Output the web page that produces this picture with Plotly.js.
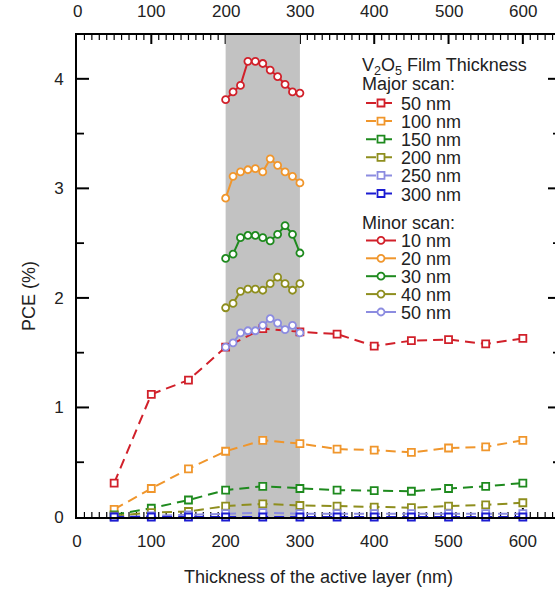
<!DOCTYPE html>
<html>
<head>
<meta charset="utf-8">
<script src="https://cdn.plot.ly/plotly-3.0.1.min.js"></script>
<style>
html,body{margin:0;padding:0;overflow:hidden;background:#fff;}
#chart{width:600px;height:589px;}
</style>
</head>
<body>
<div id="chart"></div>
<script>
// ---- Data ----
const majorX = [50, 100, 150, 200, 250, 300, 350, 400, 450, 500, 550, 600];
const major50  = [0.31, 1.12, 1.25, 1.55, 1.72, 1.69, 1.67, 1.56, 1.61, 1.62, 1.58, 1.63];
const major100 = [0.07, 0.26, 0.44, 0.60, 0.70, 0.67, 0.62, 0.61, 0.59, 0.63, 0.64, 0.70];
const major150 = [0.02, 0.08, 0.155, 0.245, 0.28, 0.26, 0.245, 0.24, 0.235, 0.26, 0.28, 0.31];
const major200 = [0.01, 0.04, 0.05, 0.10, 0.12, 0.105, 0.10, 0.09, 0.085, 0.10, 0.11, 0.13];
const major250 = [0.00, 0.01, 0.02, 0.03, 0.04, 0.03, 0.03, 0.03, 0.03, 0.03, 0.03, 0.03];
const major300 = [0.00, 0.00, 0.00, 0.00, 0.00, 0.00, 0.00, 0.00, 0.00, 0.00, 0.00, 0.00];

const minorX = [200, 210, 220, 230, 240, 250, 260, 270, 280, 290, 300];
const minor10 = [3.81, 3.88, 3.94, 4.16, 4.16, 4.14, 4.08, 4.02, 3.95, 3.88, 3.87];
const minor20 = [2.91, 3.11, 3.15, 3.17, 3.18, 3.15, 3.27, 3.21, 3.15, 3.11, 3.05];
const minor30 = [2.36, 2.40, 2.55, 2.57, 2.57, 2.55, 2.52, 2.58, 2.66, 2.58, 2.41];
const minor40 = [1.91, 1.95, 2.06, 2.08, 2.08, 2.07, 2.13, 2.19, 2.13, 2.07, 2.13];
const minor50 = [1.55, 1.59, 1.68, 1.70, 1.70, 1.75, 1.81, 1.77, 1.71, 1.75, 1.68];

const majorNames = ['50 nm', '100 nm', '150 nm', '200 nm', '250 nm', '300 nm'];
const minorNames = ['10 nm', '20 nm', '30 nm', '40 nm', '50 nm'];
const majorColors = ['#d1202a', '#f0962c', '#1e8a1e', '#8e8e1e', '#8c8ce0', '#1c1cd2'];
const minorColors = ['#d1202a', '#f0962c', '#1e8a1e', '#8e8e1e', '#8c8ce0'];
const majorSeries = [major50, major100, major150, major200, major250, major300];
const minorSeries = [minor10, minor20, minor30, minor40, minor50];
const xTickVals = [0, 100, 200, 300, 400, 500, 600];
const yTickVals = [0, 1, 2, 3, 4];

// ---- Geometry helpers (paper coords) ----
const W = 600, H = 589;
const M = {l: 77, r: 40, t: 35, b: 72};
const pw = W - M.l - M.r, ph = H - M.t - M.b;
const px2x = p => (p - M.l) / pw;
const py2y = p => (H - M.b - p) / ph;

const FONT = 'Liberation Sans, Arial, sans-serif';
const TXT = '#222';
const XR = [0, 650], YR = [0, 4.4];

const traces = [];
const layout = {
  width: W, height: H,
  margin: {l: M.l, r: M.r, t: M.t, b: M.b, autoexpand: false},
  paper_bgcolor: '#fff', plot_bgcolor: '#fff',
  font: {family: FONT, size: 17, color: TXT},
  showlegend: true,
  xaxis: {
    range: XR, tickvals: xTickVals, ticks: '',
    showline: true, linewidth: 2, linecolor: '#000', mirror: true,
    showgrid: false, zeroline: false, tickfont: {size: 17, color: TXT},
    title: {text: 'Thickness of the active layer (nm)', font: {size: 18, color: TXT}, standoff: 20},
    ticklabelstandoff: 8
  },
  yaxis: {
    range: YR, tickvals: yTickVals, ticks: '',
    showline: true, linewidth: 2, linecolor: '#000', mirror: true,
    showgrid: false, zeroline: false, tickfont: {size: 17, color: TXT},
    ticklabelstandoff: 8
  },
  shapes: [{
    type: 'rect', xref: 'x', yref: 'y', x0: 200, x1: 300, y0: 0, y1: 4.4,
    fillcolor: '#c2c2c2', line: {width: 0}, layer: 'below'
  }],
  annotations: [
    {text: 'PCE (%)', xref: 'paper', yref: 'paper', x: px2x(29), y: py2y(296),
     xanchor: 'center', yanchor: 'middle', textangle: -90, showarrow: false,
     font: {size: 18, color: TXT}},
    {text: 'V<sub>2</sub>O<sub>5</sub> Film Thickness', xref: 'paper', yref: 'paper',
     x: px2x(360), y: py2y(66), xanchor: 'left', yanchor: 'middle', showarrow: false,
     font: {size: 18, color: TXT}},
    {text: 'Major scan:', xref: 'paper', yref: 'paper',
     x: px2x(360), y: py2y(84), xanchor: 'left', yanchor: 'middle', showarrow: false,
     font: {size: 18, color: TXT}},
    {text: 'Minor scan:', xref: 'paper', yref: 'paper',
     x: px2x(360), y: py2y(223), xanchor: 'left', yanchor: 'middle', showarrow: false,
     font: {size: 18, color: TXT}}
  ]
};
// top-axis tick labels, placed through the x scale
xTickVals.forEach(v => {
  layout.annotations.push({
    text: String(v), xref: 'x', yref: 'paper', x: v, y: 1, xanchor: 'center', yanchor: 'bottom',
    yshift: 12, showarrow: false, font: {size: 17, color: TXT}
  });
});

// inward tick marks on all four sides (axis decorations, positioned via the axis scales)
function xTick(v, len, w) {
  const h = len / ph;
  layout.shapes.push({type: 'line', xref: 'x', yref: 'paper', x0: v, x1: v, y0: 0, y1: h, line: {color: '#000', width: w}, layer: 'below'});
  layout.shapes.push({type: 'line', xref: 'x', yref: 'paper', x0: v, x1: v, y0: 1, y1: 1 - h, line: {color: '#000', width: w}, layer: 'below'});
}
function yTick(v, len, w) {
  const d = len / pw;
  layout.shapes.push({type: 'line', xref: 'paper', yref: 'y', x0: 0, x1: d, y0: v, y1: v, line: {color: '#000', width: w}, layer: 'below'});
  layout.shapes.push({type: 'line', xref: 'paper', yref: 'y', x0: 1, x1: 1 - d, y0: v, y1: v, line: {color: '#000', width: w}, layer: 'below'});
}
for (let v = 10; v < XR[1]; v += 10) {
  if (v % 100 === 0) xTick(v, 9, 2); else xTick(v, 5, 1.2);
}
for (let k = 1; k * 0.5 < YR[1]; k++) {
  const v = k * 0.5;
  if (k % 2 === 0) yTick(v, 12, 2); else yTick(v, 7, 1.8);
}

let legIdx = 0;
function legendFor(xpx, ypx) {
  legIdx += 1;
  const key = legIdx === 1 ? 'legend' : 'legend' + legIdx;
  layout[key] = {
    x: px2x(xpx), y: py2y(ypx), xanchor: 'left', yanchor: 'middle',
    bgcolor: 'rgba(0,0,0,0)', borderwidth: 0, font: {size: 18, color: TXT},
    itemwidth: 30, tracegroupgap: 0
  };
  return key;
}

// major scan traces (dashed, open squares)
majorSeries.forEach((ys, i) => {
  traces.push({
    x: majorX, y: ys, type: 'scatter', mode: 'lines+markers', name: majorNames[i],
    line: {color: majorColors[i], width: 2, dash: '10px,6px'},
    marker: {symbol: 'square', size: 7, color: '#fff', line: {color: majorColors[i], width: 1.8}},
    cliponaxis: false,
    legend: legendFor(361, 103.3 + 18.1 * i)
  });
});
// minor scan traces (solid, open circles)
minorSeries.forEach((ys, i) => {
  traces.push({
    x: minorX, y: ys, type: 'scatter', mode: 'lines+markers', name: minorNames[i],
    line: {color: minorColors[i], width: 2},
    marker: {symbol: 'circle', size: 7, color: '#fff', line: {color: minorColors[i], width: 1.8}},
    cliponaxis: false,
    legend: legendFor(361, 240.7 + 17.9 * i)
  });
});

Plotly.newPlot('chart', traces, layout, {displayModeBar: false});
</script>
</body>
</html>
